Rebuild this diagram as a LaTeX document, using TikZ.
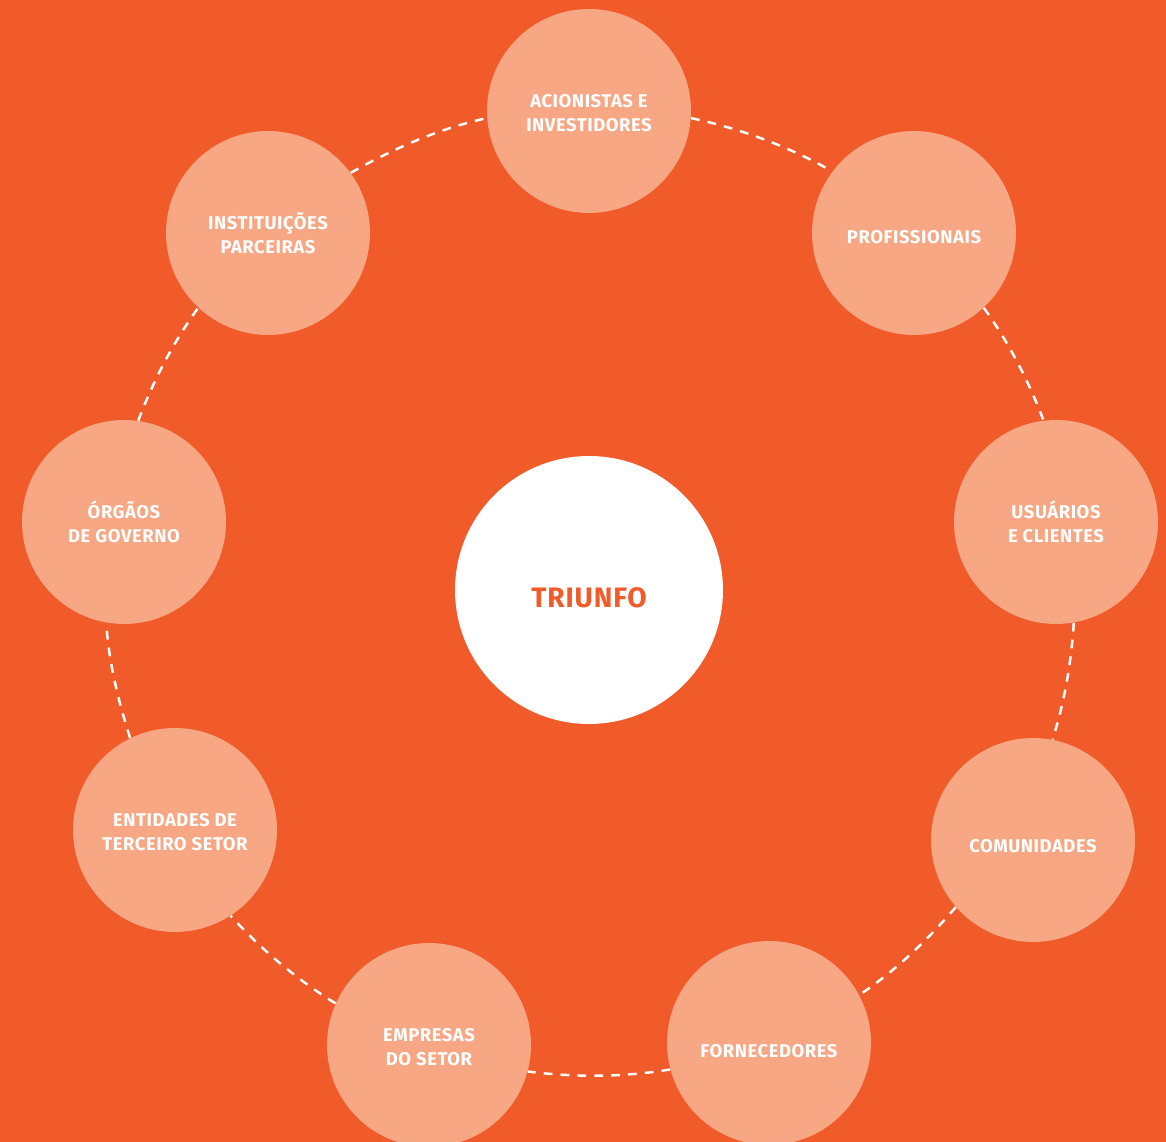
\documentclass[tikz,border=0pt]{standalone}
\usepackage{fontspec}
\setmainfont{Fira Sans}[LetterSpace=3]
\definecolor{bgorange}{HTML}{F15A29}
\definecolor{petal}{HTML}{F7A783}
\newcommand\capstrut{\rule{0pt}{10pt}}

\begin{document}
\begin{tikzpicture}[x=0.02cm, y=0.02cm,
    party/.style={circle, fill=petal, minimum size=4.08cm, inner sep=0pt, text=white, align=center,
      font=\bfseries\fontsize{10.5}{13.7}\selectfont},
    link/.style={draw=white, dash pattern=on 5pt off 4.6pt, line width=1.4pt, looseness=0.85}]
      \fill[bgorange] (0, 0) rectangle (1166, 1142);
      \useasboundingbox (0, 0) rectangle (1166, 1142);
      % centre and the nine groups
      \node [circle, fill=white, minimum size=5.36cm, text=bgorange, text height=20pt, text depth=0pt,
        font=\bfseries\fontsize{16}{19}\selectfont] (triunfo) at (589, 552) {TRIUNFO};
      \node [party] (acion) at (589, 1031) {\capstrut ACIONISTAS E\\INVESTIDORES};
      \node [party, text height=11.8pt, text depth=0pt] (prof) at (914, 909) {PROFISSIONAIS};
      \node [party] (usu) at (1056, 620) {\capstrut USUÁRIOS\\E CLIENTES};
      \node [party, text height=14pt, text depth=0pt] (comun) at (1033, 302) {COMUNIDADES};
      \node [party, text height=16.3pt, text depth=0pt] (forn) at (769, 99) {FORNECEDORES};
      \node [party] (empr) at (429, 97) {\capstrut EMPRESAS\\DO SETOR};
      \node [party] (entid) at (175, 312) {\capstrut ENTIDADES DE\\TERCEIRO SETOR};
      \node [party] (orgaos) at (124, 620) {\capstrut ÓRGÃOS\\DE GOVERNO};
      \node [party] (inst) at (268, 909) {\capstrut INSTITUIÇÕES\\PARCEIRAS};
      % dashed ring, one arc between each pair of neighbours
      \draw[link]
        (acion.-4.3) to[out=-12, in=150.1] (prof.143.8)
        (prof.-47.9) to[out=-54.2, in=110.7] (usu.97.4)
        (usu.-80.3) to[out=-93.6, in=72.2] (comun.79.8)
        (comun.221.7) to[out=-130.7, in=33.8] (forn.28.3)
        (forn.195) to[out=-170.5, in=-7.4] (empr.-15.2)
        (empr.156.1) to[out=148.3, in=-48] (entid.-57.2)
        (entid.116.9) to[out=107.7, in=-86.4] (orgaos.260.3)
        (orgaos.82.6) to[out=69.3, in=234] (inst.227)
        (inst.36.8) to[out=29.8, in=192.25] (acion.184.5);
    \end{tikzpicture}
\end{document}
